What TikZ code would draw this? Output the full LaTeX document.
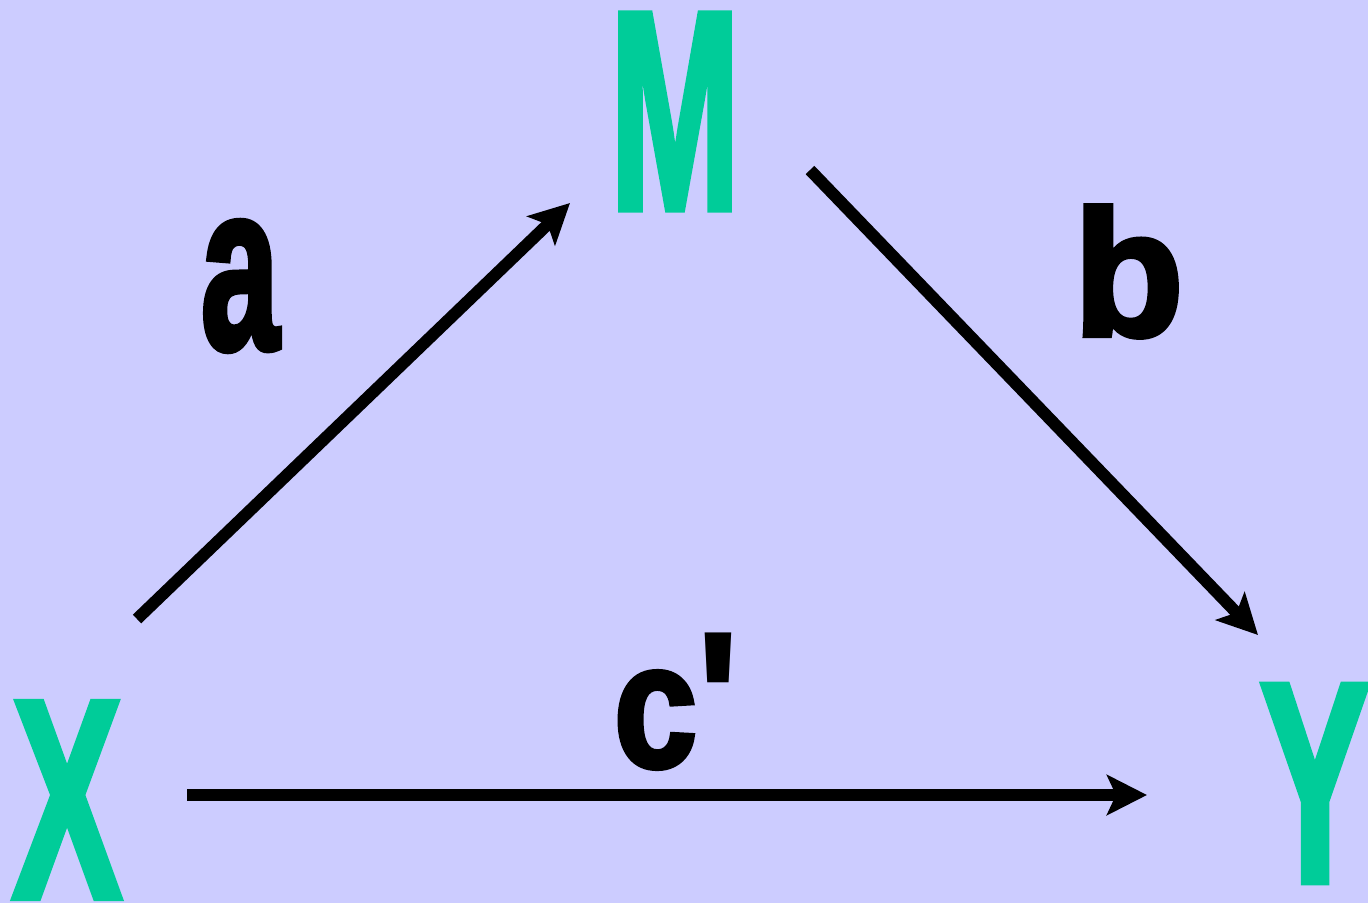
\documentclass[tikz,border=0pt]{standalone}
\usepackage{fontspec}
\setmainfont{Liberation Sans}
\newfontfamily\heavy{Liberation Sans}[BoldFeatures={FakeBold=3}]
\usetikzlibrary{arrows.meta}
\definecolor{bgc}{HTML}{CCCCFF}
\definecolor{grn}{HTML}{00CC99}
\begin{document}
\begin{tikzpicture}[x=1pt,y=-1pt,
  var/.style={inner sep=0pt,text=grn},
  lbl/.style={inner sep=0pt,text=black},
  conn/.style={line width=12pt,-{Stealth[length=40pt,width=40pt,inset=9pt]}}]
\fill[bgc] (0,0) rectangle (1368,903);
\useasboundingbox (0,0) rectangle (1368,903);
\node[var] (M) at (675,111.5) {\resizebox{130pt}{193.5pt}{\heavy\bfseries M}};
\node[var] (X) at (67,800) {\resizebox{108pt}{193.5pt}{\heavy\bfseries X}};
\node[var] (Y) at (1315,783.5) {\resizebox{109pt}{195pt}{\heavy\bfseries Y}};
\node[lbl] (la) at (240,286) {\resizebox{78pt}{127pt}{\heavy\bfseries a}};
\node[lbl] (lb) at (1128.5,271.5) {\resizebox{110pt}{129.5pt}{\heavy\bfseries b}};
\node[lbl] (lc) at (655.5,720) {\resizebox{83pt}{95pt}{\heavy\bfseries c}};
\node[lbl,anchor=north] (lp) at (718.5,633) {\fontsize{200pt}{200pt}\selectfont\bfseries\textquotesingle};
\coordinate (a0) at (137,619);
\coordinate (a1) at (570,203);
\coordinate (b0) at (810,170);
\coordinate (b1) at (1258,635);
\coordinate (c0) at (187,795);
\coordinate (c1) at (1147,795);
\draw[conn] (a0) -- (a1);
\draw[conn] (b0) -- (b1);
\draw[conn] (c0) -- (c1);
\end{tikzpicture}
\end{document}
